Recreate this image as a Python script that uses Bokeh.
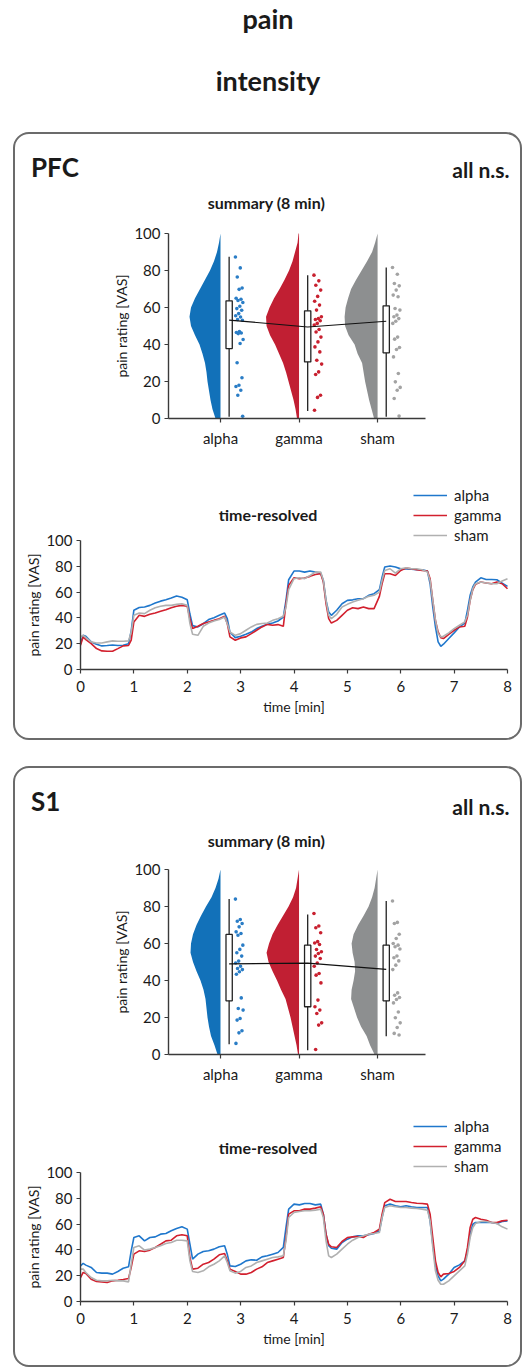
from bokeh.plotting import figure
from bokeh.models import Range1d, FixedTicker, Label, Legend, LegendItem, LinearAxis, Grid
from bokeh.layouts import column
from bokeh.embed import file_html
from bokeh.resources import INLINE

FONT = "Lato"
TXT = "#1a1a1a"

conditions = ["alpha", "gamma", "sham"]
violin_colors = ["#1271b9", "#c11f33", "#8d8f90"]
dot_colors = ["#2a7dc6", "#c8202f", "#a3a3a3"]
line_colors = ["#1f77cc", "#d2202e", "#b0b0b0"]

# ---------------- summary (8 min) ----------------
violin_levels = [0, 5, 10, 15, 20, 25, 30, 35, 40, 45, 50, 55, 60, 65, 70, 75, 80, 85, 90, 95, 100]

pfc_violin_alpha = [5, 8, 10, 11.5, 13, 14, 15.5, 18, 21, 25.5, 29.5, 31, 29.5, 25.5, 20.5, 15.5, 10.5, 6.5, 3.5, 1.5, 0]
pfc_violin_gamma = [2, 3.5, 5.5, 8, 10.5, 13, 16, 20, 24, 29, 32.5, 33, 29.5, 25, 19.5, 14.5, 10, 6.5, 4, 1.5, 0.5]
pfc_violin_sham = [3.5, 6, 8.5, 10.5, 12.5, 14, 15.5, 20, 23, 29, 32.5, 33, 32, 29.5, 26.5, 21.5, 16, 10.5, 5.5, 2.5, 0]
s1_violin_alpha = [3, 6, 9.5, 11.5, 13, 14, 15, 17, 20, 24, 27.5, 30, 29.5, 27.5, 24, 19.5, 14.5, 9, 5, 2, 0]
s1_violin_gamma = [1, 2.5, 4.5, 6.5, 8.5, 11, 13.5, 18, 22, 26.5, 30.5, 32.5, 30, 26.5, 21.5, 16, 10.5, 6, 3, 1.5, 0]
s1_violin_sham = [3, 7.5, 11, 16.5, 20.5, 23.5, 26.5, 26, 24, 22.5, 23, 25, 26, 24, 19.5, 14, 9, 5.5, 3, 1.5, 0]

pfc_points_alpha = [87.3, 81.4, 76.5, 70.5, 69.8, 65.0, 64.5, 63.8, 62.7, 60.7, 59.4, 58.5, 56.7, 55.5, 54.9,
                    53.5, 53.1, 47.0, 46.5, 46.2, 45.9, 42.7, 40.5, 30.1, 22.0, 18.0, 17.3, 15.3, 12.6, 1.2]
pfc_points_gamma = [77.5, 74.4, 72.0, 69.4, 66.0, 63.4, 61.3, 58.6, 55.0, 54.0, 53.5, 52.8, 51.4, 50.5, 48.1,
                    46.8, 44.0, 41.4, 38.7, 36.0, 31.5, 29.4, 25.2, 23.8, 12.6, 11.4, 4.5]
pfc_points_sham = [81.6, 78.0, 73.0, 71.7, 69.4, 66.7, 65.8, 59.5, 58.6, 55.9, 55.0, 54.0, 52.6, 51.4, 44.0,
                   42.9, 38.4, 37.3, 33.3, 24.3, 19.8, 16.8, 15.3, 10.8, 1.3]
s1_points_alpha = [84.0, 73.0, 72.0, 70.8, 69.0, 66.3, 65.4, 64.5, 59.1, 56.8, 55.0, 53.2, 50.5, 49.5, 47.7,
                   46.5, 45.9, 44.7, 43.4, 30.6, 24.9, 24.0, 19.5, 18.6, 12.8, 11.7, 6.0]
s1_points_gamma = [76.2, 69.5, 68.5, 65.8, 61.0, 60.3, 59.5, 56.8, 55.5, 54.6, 53.2, 51.9, 49.5, 47.7, 43.8,
                   42.9, 38.7, 29.4, 25.8, 24.0, 22.2, 17.1, 15.9, 2.7]
s1_points_sham = [83.0, 71.4, 70.8, 65.0, 62.7, 60.0, 59.1, 58.2, 57.0, 53.2, 52.3, 50.6, 48.3, 45.9, 33.3,
                  32.0, 30.8, 29.7, 27.9, 23.0, 19.9, 17.1, 14.6, 11.4, 10.5]

pfc_whisker_low = [0.9, 4.1, 0.9]
pfc_q1 = [37.8, 30.6, 35.5]
pfc_q3 = [63.6, 58.2, 60.9]
pfc_whisker_high = [87.4, 77.5, 81.6]
pfc_mean = [53.2, 49.5, 52.6]

s1_whisker_low = [5.6, 2.3, 9.9]
s1_q1 = [29.0, 25.8, 29.0]
s1_q3 = [64.9, 59.1, 59.1]
s1_whisker_high = [84.0, 75.7, 83.0]
s1_mean = [49.0, 49.4, 46.0]

# ---------------- time-resolved ----------------
time_min = [0, 0.05, 0.1, 0.2, 0.3, 0.4, 0.5, 0.6, 0.7, 0.8, 0.9, 0.95,
            1.0, 1.1, 1.2, 1.3, 1.4, 1.5, 1.6, 1.7, 1.8, 1.9, 2.0,
            2.05, 2.1, 2.2, 2.3, 2.4, 2.5, 2.6, 2.7, 2.75,
            2.8, 2.9, 3.0, 3.1, 3.2, 3.3, 3.4, 3.5, 3.6, 3.7, 3.8, 3.85,
            3.9, 4.0, 4.1, 4.2, 4.3, 4.4, 4.5, 4.55, 4.6, 4.65,
            4.7, 4.8, 4.9, 5.0, 5.1, 5.2, 5.3, 5.4, 5.5, 5.6, 5.65,
            5.7, 5.8, 5.9, 6.0, 6.1, 6.2, 6.3, 6.4, 6.5,
            6.55, 6.6, 6.65, 6.7, 6.75, 6.8,
            6.9, 7.0, 7.1, 7.2,
            7.25, 7.3, 7.35, 7.4,
            7.5, 7.6, 7.7, 7.8, 7.9, 8.0]

pfc_time_alpha = [20.0, 26.5, 25.8, 21.4, 19.6, 18.3, 18.6, 19.0, 18.6, 18.8, 20.0, 30.0,
                  46.0, 48.0, 48.5, 49.7, 51.5, 53.0, 54.0, 55.4, 57.0, 56.0, 54.0,
                  43.0, 34.0, 33.0, 35.5, 38.7, 40.2, 42.0, 43.8, 39.4,
                  29.0, 24.7, 25.8, 27.3, 29.0, 31.7, 33.5, 35.0, 36.0, 37.6, 40.7, 53.6,
                  69.6, 76.3, 76.3, 75.5, 76.3, 75.5, 74.7, 69.0, 53.6, 44.6,
                  42.0, 45.9, 51.0, 53.6, 54.0, 54.9, 54.9, 57.5, 58.8, 61.9, 71.6,
                  79.4, 80.2, 79.4, 78.0, 78.0, 77.8, 77.3, 77.3, 76.3,
                  66.5, 48.5, 33.0, 21.4, 18.0, 19.6,
                  24.0, 28.4, 33.0, 36.0,
                  45.9, 57.5, 64.0, 67.8,
                  71.1, 69.8, 69.8, 69.6, 67.0, 64.4]
pfc_time_gamma = [18.8, 25.3, 23.2, 20.1, 16.2, 14.4, 14.2, 14.2, 16.2, 18.3, 18.6, 22.7,
                  36.9, 42.0, 41.2, 42.8, 43.8, 45.1, 46.4, 47.9, 49.0, 49.7, 49.0,
                  39.4, 31.7, 33.5, 35.6, 36.9, 38.1, 39.4, 41.2, 35.6,
                  25.3, 22.7, 24.5, 25.3, 27.8, 30.4, 33.0, 35.0, 34.3, 34.8, 33.5, 51.0,
                  65.2, 71.1, 70.4, 70.9, 72.2, 73.7, 74.2, 67.8, 51.0, 39.4,
                  36.0, 38.1, 42.0, 45.9, 47.9, 47.2, 48.5, 47.2, 47.2, 56.7, 66.5,
                  74.2, 74.2, 72.9, 76.8, 78.6, 78.1, 77.3, 76.8, 76.3,
                  70.4, 53.6, 38.1, 29.1, 24.7, 24.0,
                  27.3, 30.4, 33.0, 33.5,
                  40.7, 53.6, 61.9, 66.0,
                  67.8, 67.0, 66.5, 67.8, 66.5, 62.6]
pfc_time_sham = [25.3, 26.5, 24.7, 21.4, 20.6, 20.6, 21.4, 22.2, 21.9, 21.9, 22.2, 29.0,
                 42.0, 43.8, 43.3, 45.9, 47.9, 49.0, 49.7, 49.7, 50.5, 51.0, 49.7,
                 35.6, 27.3, 26.5, 33.5, 36.0, 37.6, 38.7, 40.7, 35.6,
                 29.1, 26.5, 27.8, 30.4, 33.0, 35.0, 35.6, 36.0, 38.1, 39.4, 41.2, 48.5,
                 61.9, 70.4, 71.1, 70.4, 72.9, 75.5, 75.5, 69.0, 53.6, 42.0,
                 39.4, 42.8, 48.5, 50.5, 52.3, 53.6, 54.9, 56.7, 57.5, 60.0, 69.0,
                 76.8, 78.1, 74.7, 78.1, 78.9, 78.1, 78.1, 77.3, 75.5,
                 69.0, 53.6, 38.1, 27.8, 25.3, 25.8,
                 28.4, 31.7, 34.3, 36.9,
                 42.0, 53.6, 62.6, 66.5,
                 67.8, 67.0, 66.5, 66.5, 68.6, 70.4]

s1_time_alpha = [27.6, 29.5, 28.2, 26.4, 22.5, 22.0, 22.0, 21.2, 23.3, 25.8, 26.9, 39.3,
                 49.6, 50.9, 47.0, 49.6, 50.1, 52.2, 52.7, 54.8, 56.6, 57.9, 56.1,
                 44.4, 32.8, 36.7, 38.8, 39.3, 40.6, 42.4, 43.2, 36.7,
                 27.6, 27.1, 28.9, 31.5, 32.3, 32.0, 34.6, 35.4, 36.7, 38.0, 41.9, 57.4,
                 71.6, 75.5, 74.9, 76.0, 76.0, 74.9, 75.5, 67.7, 52.2, 43.2,
                 41.3, 40.6, 45.7, 48.3, 50.1, 50.9, 50.9, 51.7, 52.7, 54.8, 65.1,
                 74.2, 75.5, 74.2, 73.4, 74.2, 73.4, 72.9, 72.9, 72.9,
                 62.5, 44.4, 27.6, 19.9, 16.0, 17.3,
                 21.2, 26.4, 28.4, 31.5,
                 39.3, 52.2, 59.9, 61.2,
                 61.2, 61.2, 61.2, 60.5, 62.0, 62.5]
s1_time_gamma = [18.6, 22.5, 21.7, 17.3, 15.5, 15.2, 14.7, 16.0, 16.5, 17.1, 17.8, 26.4,
                 36.7, 39.3, 38.8, 39.8, 41.9, 44.4, 47.0, 47.5, 50.9, 51.7, 50.9,
                 34.1, 25.1, 25.8, 28.9, 30.2, 32.8, 36.2, 37.2, 31.5,
                 25.1, 23.3, 21.2, 21.2, 22.5, 25.1, 26.9, 30.2, 31.5, 32.8, 34.1, 49.6,
                 67.7, 70.3, 70.3, 71.6, 71.6, 72.4, 73.4, 67.7, 52.2, 44.4,
                 42.4, 41.9, 46.5, 49.6, 50.1, 50.4, 49.6, 52.2, 53.5, 56.1, 67.7,
                 76.7, 79.3, 77.5, 77.5, 77.5, 76.7, 76.2, 76.0, 75.5,
                 67.7, 49.6, 31.5, 22.5, 19.1, 21.2,
                 21.7, 23.3, 26.4, 31.5,
                 41.9, 57.4, 63.8, 65.1,
                 63.8, 63.0, 61.2, 61.2, 62.5, 63.0]
s1_time_sham = [25.1, 25.1, 22.5, 18.6, 16.5, 16.0, 16.0, 16.5, 16.0, 16.0, 15.2, 28.9,
                41.9, 43.2, 39.8, 40.6, 41.9, 43.2, 45.0, 45.7, 47.5, 47.5, 47.0,
                31.5, 23.3, 22.5, 23.8, 26.9, 28.9, 31.5, 35.4, 30.2,
                23.8, 22.0, 23.3, 26.4, 27.6, 30.2, 31.5, 32.8, 34.1, 34.6, 35.4, 47.0,
                65.1, 69.0, 69.8, 70.3, 70.3, 70.8, 71.6, 65.1, 47.0, 35.4,
                34.1, 36.7, 40.6, 44.4, 47.5, 49.6, 50.9, 52.2, 52.7, 53.5, 65.1,
                72.9, 74.2, 73.4, 72.9, 72.9, 72.4, 72.1, 71.6, 70.8,
                62.5, 41.9, 23.8, 16.5, 13.4, 13.4,
                16.0, 19.9, 23.8, 27.6,
                36.7, 49.6, 57.4, 60.5,
                62.0, 62.0, 61.2, 60.5, 57.9, 56.1]


def canvas(W, H, box, xr, yr):
    """Figure whose frame fills the canvas; the data area sits at local pixel box (l, r, top, bottom)."""
    lx0, lx1, ly0, ly1 = box
    xa, xb = xr
    ya, yb = yr
    sx = (lx1 - lx0) / (xb - xa)
    sy = (ly1 - ly0) / (yb - ya)
    p = figure(width=W, height=H,
               x_range=Range1d(xa - lx0 / sx, xb + (W - lx1) / sx),
               y_range=Range1d(ya - (H - ly1) / sy, yb + ly0 / sy),
               min_border=0, x_axis_location=None, y_axis_location=None,
               output_backend="svg", toolbar_location=None)
    p.frame_align = False
    p.outline_line_color = None
    p.background_fill_alpha = 0
    p.border_fill_alpha = 0
    for g in p.select(type=Grid):
        g.visible = False
    p.center = [r for r in p.center if not isinstance(r, Grid)]

    def to_data(lx, ly):
        return xa + (lx - lx0) / sx, ya + (ly1 - ly) / sy
    return p, to_data


def make_axis(ticks, loc, bounds, label=None, standoff=4, label_standoff=1, overrides=None):
    ax = LinearAxis(fixed_location=loc, bounds=bounds, ticker=FixedTicker(ticks=ticks))
    ax.axis_line_color = "#3a3a3a"
    ax.axis_line_width = 1.4
    ax.major_tick_line_color = "#3a3a3a"
    ax.major_tick_line_width = 1.2
    ax.major_tick_in = 0
    ax.major_tick_out = 4
    ax.minor_tick_line_color = None
    ax.major_label_text_font = FONT
    ax.major_label_text_font_size = "15px"
    ax.major_label_text_color = TXT
    ax.major_label_standoff = standoff
    if overrides:
        ax.major_label_overrides = overrides
    if label:
        ax.axis_label = label
        ax.axis_label_text_font = FONT
        ax.axis_label_text_font_size = "14px"
        ax.axis_label_text_font_style = "normal"
        ax.axis_label_text_color = TXT
        ax.axis_label_standoff = label_standoff
    return ax


def add_text(p, to_data, lx, baseline, text, size_px, align="center"):
    # place by visual baseline; Bokeh anchors at the middle of the em box
    x, y = to_data(lx, baseline - 0.387 * size_px)
    p.add_layout(Label(x=x, y=y, text=text, text_font=FONT, text_font_size=f"{size_px}px",
                       text_font_style="bold", text_color=TXT,
                       text_align=align, text_baseline="middle"))


def summary_figure(name, violins, points, low, q1, q3, high, mean, ft, title_y, ns_y):
    W, H = 505, 328
    x0, x1 = 0.338, 3.61
    p, to_data = canvas(W, H, (153, 410, ft, ft + 185), (x0, x1), (0, 100))

    scale = 0.42 / 33.0
    for i in range(3):
        cat = i + 1
        xs = [cat] + [cat - scale * w for w in violins[i]] + [cat]
        ys = [0] + violin_levels + [100]
        p.patch(xs, ys, fill_color=violin_colors[i], line_color=None)
        bx = cat + 0.11
        p.segment(x0=[bx], y0=[low[i]], x1=[bx], y1=[high[i]], line_color="#222222", line_width=1.3)
        p.quad(left=[bx - 0.04], right=[bx + 0.04], bottom=[q1[i]], top=[q3[i]],
               fill_color="white", line_color="#222222", line_width=1.3)
        jit = [cat + 0.19 + 0.10 * ((k * 0.618034) % 1.0) for k in range(len(points[i]))]
        p.scatter(jit, points[i], size=3.6, fill_color=dot_colors[i], line_color=None)
    p.line([c + 0.11 for c in (1, 2, 3)], mean, line_color="#111111", line_width=1.1)

    p.add_layout(make_axis([1, 2, 3], 0, (x0, x1), standoff=6,
                           overrides={1: "alpha", 2: "gamma", 3: "sham"}), "below")
    p.add_layout(make_axis([0, 20, 40, 60, 80, 100], x0, (0, 100), label="pain rating [VAS]"), "left")

    add_text(p, to_data, 15.5, 43, name, 26, align="left")
    add_text(p, to_data, 494, ns_y, "all n.s.", 21, align="right")
    add_text(p, to_data, 251, title_y, "summary (8 min)", 16)
    return p


def time_figure(series, H, ft, title_y, leg_bottom):
    W = 505
    p, to_data = canvas(W, H, (65, 492, ft, ft + 129), (0, 8), (0, 100))
    rends = []
    for i in range(3):
        r = p.line(time_min, series[i], line_color=line_colors[i], line_width=1.6)
        rends.append(r)
    p.add_layout(make_axis(list(range(9)), 0, (0, 8), label="time [min]", standoff=7, label_standoff=3), "below")
    p.add_layout(make_axis([0, 20, 40, 60, 80, 100], 0, (0, 100), label="pain rating [VAS]"), "left")

    leg = Legend(items=[LegendItem(label=c, renderers=[r]) for c, r in zip(conditions, rends)],
                 location=(398, H - leg_bottom), orientation="vertical", glyph_width=34, glyph_height=20,
                 label_height=20, label_standoff=7, spacing=0, padding=0, margin=0,
                 border_line_color=None, background_fill_alpha=0,
                 label_text_font=FONT, label_text_font_size="15px", label_text_color=TXT)
    p.add_layout(leg)
    add_text(p, to_data, 252.5, title_y, "time-resolved", 16)
    return p


def panel(name, violins, points, low, q1, q3, high, mean, series,
          s_ft, s_title, s_ns, time_h, t_ft, t_title, t_leg, top_margin):
    a = summary_figure(name, violins, points, low, q1, q3, high, mean, s_ft, s_title, s_ns)
    b = time_figure(series, time_h, t_ft, t_title, t_leg)
    return column(a, b, margin=(top_margin, 0, 0, 13),
                  styles={"border": "2px solid #6b6b6b", "border-radius": "16px", "overflow": "hidden"})


# page title
t, t_to_data = canvas(530, 132, (0, 530, 0, 132), (0, 530), (0, 132))
add_text(t, t_to_data, 267.5, 28, "pain", 27)
add_text(t, t_to_data, 267.5, 90, "intensity", 27)

p1 = panel("PFC", [pfc_violin_alpha, pfc_violin_gamma, pfc_violin_sham],
           [pfc_points_alpha, pfc_points_gamma, pfc_points_sham],
           pfc_whisker_low, pfc_q1, pfc_q3, pfc_whisker_high, pfc_mean,
           [pfc_time_alpha, pfc_time_gamma, pfc_time_sham],
           99, 74, 43, 276, 78, 58, 83, 0)
p2 = panel("S1", [s1_violin_alpha, s1_violin_gamma, s1_violin_sham],
           [s1_points_alpha, s1_points_gamma, s1_points_sham],
           s1_whisker_low, s1_q1, s1_q3, s1_whisker_high, s1_mean,
           [s1_time_alpha, s1_time_gamma, s1_time_sham],
           101, 78, 46, 269, 76, 57, 80, 26)

page = column(t, p1, p2)
open("out.html", "w").write(file_html(page, INLINE))
